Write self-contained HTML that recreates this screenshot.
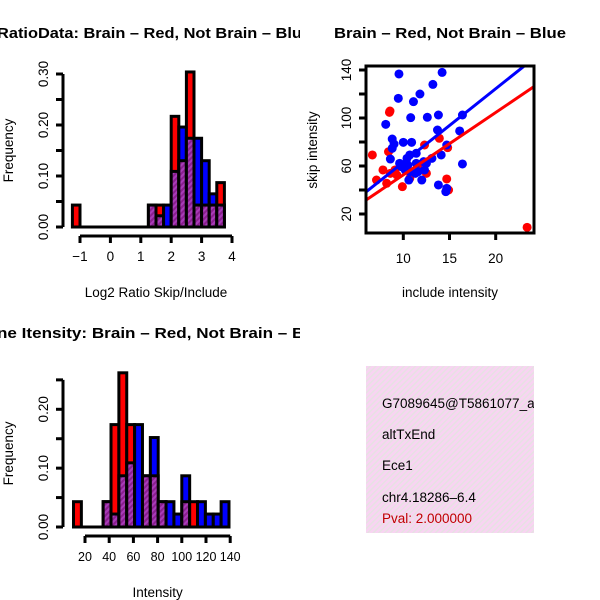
<!DOCTYPE html>
<html><head><meta charset="utf-8"><style>
html,body{margin:0;padding:0;background:#fff;width:600px;height:600px;overflow:hidden}
svg{position:absolute;left:0;top:0;font-family:"Liberation Sans",sans-serif}
</style></head><body>
<svg id="c" width="600" height="600">
<defs>
<pattern id="hp" patternUnits="userSpaceOnUse" width="4" height="4" patternTransform="rotate(45)">
<rect width="4" height="4" fill="#8a1f8f"/><rect width="2" height="4" fill="#a83cb8"/></pattern>
<pattern id="pk" patternUnits="userSpaceOnUse" width="4" height="4" patternTransform="rotate(45)">
<rect width="4" height="4" fill="#f8d4f2"/><rect width="1.4" height="4" fill="#e6e2e2"/></pattern>
<clipPath id="cl"><rect x="0" y="0" width="300" height="300"/></clipPath>
<clipPath id="cl3"><rect x="0" y="300" width="300" height="300"/></clipPath>
<clipPath id="sc"><rect x="366" y="66" width="168" height="167"/></clipPath>
<clipPath id="bx"><rect x="366" y="366" width="168" height="167"/></clipPath>
</defs>
<text x="-3" y="38" font-size="15" font-weight="bold" textLength="314" lengthAdjust="spacingAndGlyphs" clip-path="url(#cl)">RatioData: Brain – Red, Not Brain – Blue</text>
<text x="334" y="38" font-size="15" font-weight="bold" textLength="232" lengthAdjust="spacingAndGlyphs">Brain – Red, Not Brain – Blue</text>
<text x="-3" y="338" font-size="15" font-weight="bold" textLength="332" lengthAdjust="spacingAndGlyphs" clip-path="url(#cl3)">ne Itensity: Brain – Red, Not Brain – Blue</text>
<g id="h1"></g><g id="h2"></g><g id="s"></g>
<g>
<rect x="366" y="366" width="168" height="167" fill="url(#pk)"/>
<g clip-path="url(#bx)" font-size="13.5">
<text x="382" y="408">G7089645@T5861077_alt</text>
<text x="382" y="439">altTxEnd</text>
<text x="382" y="470">Ece1</text>
<text x="382" y="502">chr4.18286–6.4</text>
<text x="382" y="523" fill="#c00000">Pval: 2.000000</text>
</g></g>
</svg>
<script>
// Histogram 1: Log2 ratio
const h1Edges=[-1.25,1.25,1.5,1.75,2.0,2.25,2.5,2.75,3.0,3.25,3.5];
const h1Red=[0.043,0.043,0.043,0,0.217,0.13,0.304,0.043,0.043,0.043,0.087];
const h1Blue=[0,0.043,0.022,0.043,0.109,0.196,0.174,0.174,0.13,0.065,0.043];
const h1Width=0.25;
const h1XTicks=[-1,0,1,2,3,4];
const h1YTicks=[0,0.05,0.1,0.15,0.2,0.25,0.3];
const h1YLabels=["0.00","","0.10","","0.20","","0.30"];
// Histogram 2: intensity
const h2Edges=[10.5,35,41.5,48,54.5,61,67.5,74,80.5,87,93.5,100,106.5,113,119.5,126,132.5];
const h2Red=[0.043,0.043,0.174,0.262,0.174,0,0.087,0.087,0.043,0,0,0.043,0.043,0,0,0,0];
const h2Blue=[0,0.043,0.022,0.087,0.109,0.174,0.087,0.152,0.043,0.043,0.022,0.087,0,0.043,0.022,0.022,0.043];
const h2Width=6.5;
const h2XTicks=[20,40,60,80,100,120,140];
const h2YTicks=[0,0.05,0.1,0.15,0.2,0.25];
const h2YLabels=["0.00","","0.10","","0.20",""];
// Scatter
const blueX=[9.53,14.2,13.2,9.46,11.8,11.1,10.8,12.6,13.8,16.4,8.1,8.8,9.0,10.0,10.9,8.8,13.7,16.1,8.6,9.6,10.4,10.7,11.4,9.8,10.5,11.4,12.2,12.5,13.1,14.1,14.7,16.4,10.7,11.6,12.3,10.6,12.0,13.8,14.6,14.7,10.2,11.3];
const blueY=[136.7,138,128,116.4,120,113.6,100.3,100.6,102.5,102.5,94.7,82.5,78.3,79.7,79.7,74.7,90,89.2,65.8,62.2,66.4,69.2,70.6,59.4,60.8,62.2,63.6,62.2,66.4,69.2,77.5,61.7,55.3,55.3,56.7,48.3,48.3,44.2,38.6,41.4,56.7,53.9];
const redX=[6.65,8.56,8.5,7.1,7.8,8.2,8.4,9.3,9.9,10.7,12.3,13.9,14.8,12.5,14.7,14.9,23.4,9.1,10.0,11.6,8.6];
const redY=[69.2,105.8,104.7,48.3,56.7,45.6,71.9,52.5,42.8,49.7,77.5,83.1,75.3,53.9,49.2,40,8.9,56.7,60.8,60.8,53.9];
const fitSlope=[5.2,6.13];
const fitIntercept=[0.6,1.8];
const sXTicks=[10,15,20];
const sYTicks=[20,40,60,80,100,120,140];
const sYLabels=["20","","60","","100","","140"];

const FS=13.5;
const NS="http://www.w3.org/2000/svg";
function mk(p,t,a){const e=document.createElementNS(NS,t);for(const k in a)e.setAttribute(k,a[k]);p.appendChild(e);return e;}

function hist(g,edges,red,blue,w,xs,ys,base,xT,yT,yL,yAxX,xAxY,xTitle,xTitleY,prefix,xfs){
  for(let i=0;i<edges.length;i++){
    const x0=xs(edges[i]),x1=xs(edges[i]+w);
    const r=red[i],b=blue[i];
    const hi=Math.max(r,b),lo=Math.min(r,b);
    const col=r>=b?"#ff0000":"#0000ff";
    const br=mk(g,"rect",{x:x0,y:ys(hi),width:x1-x0,height:ys(0)-ys(hi),fill:col,stroke:"#000","stroke-width":3});
    
    
    if(lo>0){
      const pr=mk(g,"rect",{x:x0,y:ys(lo),width:x1-x0,height:ys(0)-ys(lo),fill:"url(#hp)",stroke:"#000","stroke-width":3});
      
      
    }
  }
  mk(g,"line",{x1:xs(edges[0]),x2:xs(edges[edges.length-1]+w),y1:ys(0),y2:ys(0),stroke:"#000","stroke-width":3});
  const ya=mk(g,"line",{x1:yAxX,x2:yAxX,y1:ys(yT[0]),y2:ys(yT[yT.length-1]),stroke:"#000","stroke-width":3});
  
  
  yT.forEach((v,i)=>{
    mk(g,"line",{x1:yAxX-7,x2:yAxX,y1:ys(v),y2:ys(v),stroke:"#000","stroke-width":3});
    if(yL[i]){const t=mk(g,"text",{x:0,y:0,"font-size":FS,"text-anchor":"middle",transform:`translate(${yAxX-15},${ys(v)}) rotate(-90)`});t.textContent=yL[i];
      
      }
  });
  const xa=mk(g,"line",{x1:xs(xT[0]),x2:xs(xT[xT.length-1]),y1:xAxY,y2:xAxY,stroke:"#000","stroke-width":3});
  
  
  xT.forEach(v=>{
    mk(g,"line",{x1:xs(v),x2:xs(v),y1:xAxY,y2:xAxY+7,stroke:"#000","stroke-width":3});
    const t=mk(g,"text",{x:xs(v),y:xAxY+25,"font-size":xfs,"text-anchor":"middle"});t.textContent=String(v).replace("-","−");
    
    
  });
  const xt=mk(g,"text",{x:(xs(xT[0])+xs(xT[xT.length-1]))/2,y:xTitleY,"font-size":FS,"text-anchor":"middle"});xt.textContent=xTitle;
  
  
  const yt=mk(g,"text",{x:0,y:0,"font-size":FS,"text-anchor":"middle",transform:`translate(13,${(ys(yT[0])+ys(yT[yT.length-1]))/2}) rotate(-90)`});yt.textContent="Frequency";
  
  
}
hist(document.getElementById("h1"),h1Edges,h1Red,h1Blue,h1Width,
  v=>80+(v+1)*30.4,v=>227-v*510,0,h1XTicks,h1YTicks,h1YLabels,63,236,"Log2 Ratio Skip/Include",297,"ratio-hist",FS);
hist(document.getElementById("h2"),h2Edges,h2Red,h2Blue,h2Width,
  v=>85+(v-20)*1.21,v=>527-v*588.5,0,h2XTicks,h2YTicks,h2YLabels,63,536,"Intensity",597,"intensity-hist",12.5);

const sg=document.getElementById("s");
const sx=v=>403.3+(v-10)*9.24, sy=v=>214-(v-20)*1.2;
const pg=mk(sg,"g",{"clip-path":"url(#sc)"});
redX.forEach((x,i)=>{const c=mk(pg,"circle",{cx:sx(x),cy:sy(redY[i]),r:4.5,fill:"#ff0000"});
  
  });
blueX.forEach((x,i)=>{const c=mk(pg,"circle",{cx:sx(x),cy:sy(blueY[i]),r:4.5,fill:"#0000ff"});
  
  });
["#0000ff","#ff0000"].forEach((col,k)=>{
  const j=k===0?1:0;
  const l=mk(pg,"line",{x1:sx(5),y1:sy(fitIntercept[j]+fitSlope[j]*5),x2:sx(26),y2:sy(fitIntercept[j]+fitSlope[j]*26),stroke:col,"stroke-width":3});
  
  
});
const fr=mk(sg,"rect",{x:366,y:66,width:168,height:167,fill:"none",stroke:"#000","stroke-width":3});


sYTicks.forEach((v,i)=>{
  mk(sg,"line",{x1:359,x2:366,y1:sy(v),y2:sy(v),stroke:"#000","stroke-width":3});
  if(sYLabels[i]){const t=mk(sg,"text",{x:0,y:0,"font-size":FS,"text-anchor":"middle",transform:`translate(351,${sy(v)}) rotate(-90)`});t.textContent=sYLabels[i];
    
    }
});
sXTicks.forEach(v=>{
  mk(sg,"line",{x1:sx(v),x2:sx(v),y1:233,y2:240,stroke:"#000","stroke-width":3});
  const t=mk(sg,"text",{x:sx(v),y:263,"font-size":FS,"text-anchor":"middle"});t.textContent=v;
  
  
});
const sxt=mk(sg,"text",{x:450,y:297,"font-size":FS,"text-anchor":"middle"});sxt.textContent="include intensity";


const syt=mk(sg,"text",{x:0,y:0,"font-size":FS,"text-anchor":"middle",transform:"translate(317,150) rotate(-90)"});syt.textContent="skip intensity";


</script>
</body></html>
